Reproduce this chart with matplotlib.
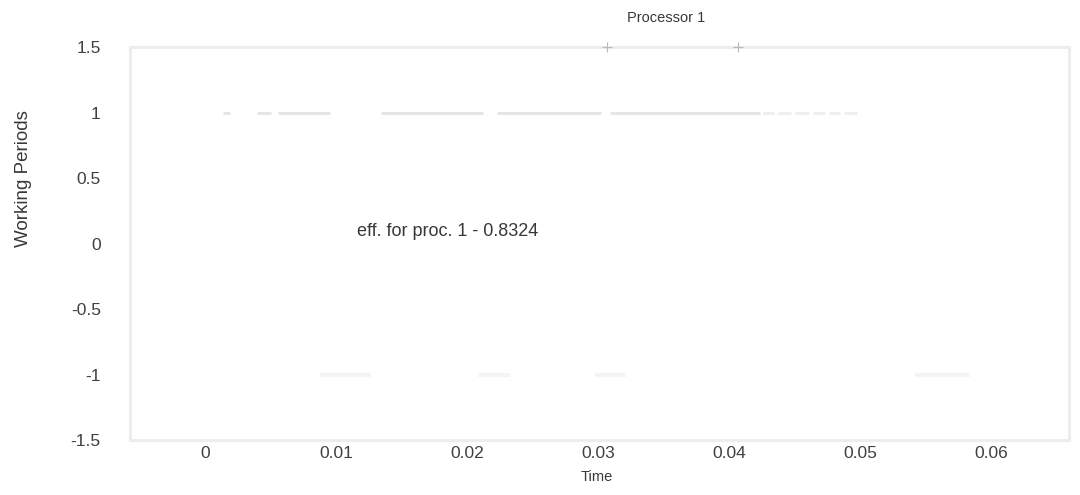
import matplotlib
matplotlib.use("Agg")
import matplotlib.pyplot as plt

plt.rcParams['font.family'] = ['Liberation Sans', 'DejaVu Sans']

# Working periods of processor 1 (drawn at level 1): start / end times
work_start = [0.00137, 0.0040, 0.0056, 0.0134, 0.0223, 0.0309]
work_end   = [0.0019,  0.0050, 0.0095, 0.0212, 0.0302, 0.0424]
# Tail of the working interval, split into short pieces
tail_start = [0.0426, 0.0437, 0.0450, 0.0464, 0.0476, 0.0488]
tail_end   = [0.0434, 0.0447, 0.0461, 0.0473, 0.0485, 0.0498]
# Idle periods (drawn at level -1)
idle_start = [0.0088, 0.0208, 0.0298, 0.0542]
idle_end   = [0.0127, 0.0233, 0.0321, 0.0584]
# Event markers on the upper limit
event_t = [0.0307, 0.0407]
event_level = 1.5

efficiency = 0.8324
x_ticks = [0, 0.01, 0.02, 0.03, 0.04, 0.05, 0.06]
x_tick_labels = ['0', '0.01', '0.02', '0.03', '0.04', '0.05', '0.06']
y_ticks = [-1.5, -1, -0.5, 0, 0.5, 1, 1.5]
y_tick_labels = ['-1.5', '-1', '-0.5', '0', '0.5', '1', '1.5']

fig = plt.figure(figsize=(10.8, 4.95), dpi=100)
ax = fig.add_axes([0.1204, 0.1111, 0.8694, 0.7939])

for s, e in zip(work_start, work_end):
    ax.plot([s, e], [1, 1], color='#e6e6e6', lw=2.2, solid_capstyle='butt')
for s, e in zip(tail_start, tail_end):
    ax.plot([s, e], [1, 1], color='#efefef', lw=2.2, solid_capstyle='butt')
for s, e in zip(idle_start, idle_end):
    ax.plot([s, e], [-1, -1], color='#f4f4f4', lw=3, solid_capstyle='butt')
ax.plot(event_t, [event_level] * len(event_t), linestyle='none', marker='+',
        markersize=7, color='#b8b8b8', mew=0.8, clip_on=False, zorder=5)

ax.text(0.0116, 0.09, f'eff. for proc. 1 - {efficiency:.4f}', fontsize=13,
        color='#383838', va='center', ha='left')

ax.set_xlim(-0.00573, 0.06595)
ax.set_ylim(-1.5, 1.5)
ax.set_xticks(x_ticks)
ax.set_xticklabels(x_tick_labels)
ax.set_yticks(y_ticks)
ax.set_yticklabels(y_tick_labels)
ax.tick_params(axis='both', length=0, labelsize=12.5, colors='#404040')
ax.tick_params(axis='y', pad=21)
ax.tick_params(axis='x', pad=4)
for sp in ax.spines.values():
    sp.set_color('#ededed')
    sp.set_linewidth(2.2)

fig.text(0.6165, 0.963, 'Processor 1', fontsize=10.5, color='#383838',
         ha='center', va='center')
fig.text(0.553, 0.036, 'Time', fontsize=10.5, color='#383838',
         ha='center', va='center')
fig.text(0.022, 0.640, 'Working Periods', fontsize=13.5, color='#383838',
         ha='center', va='center', rotation=90)

fig.savefig('out.png', dpi=100, facecolor='white')
